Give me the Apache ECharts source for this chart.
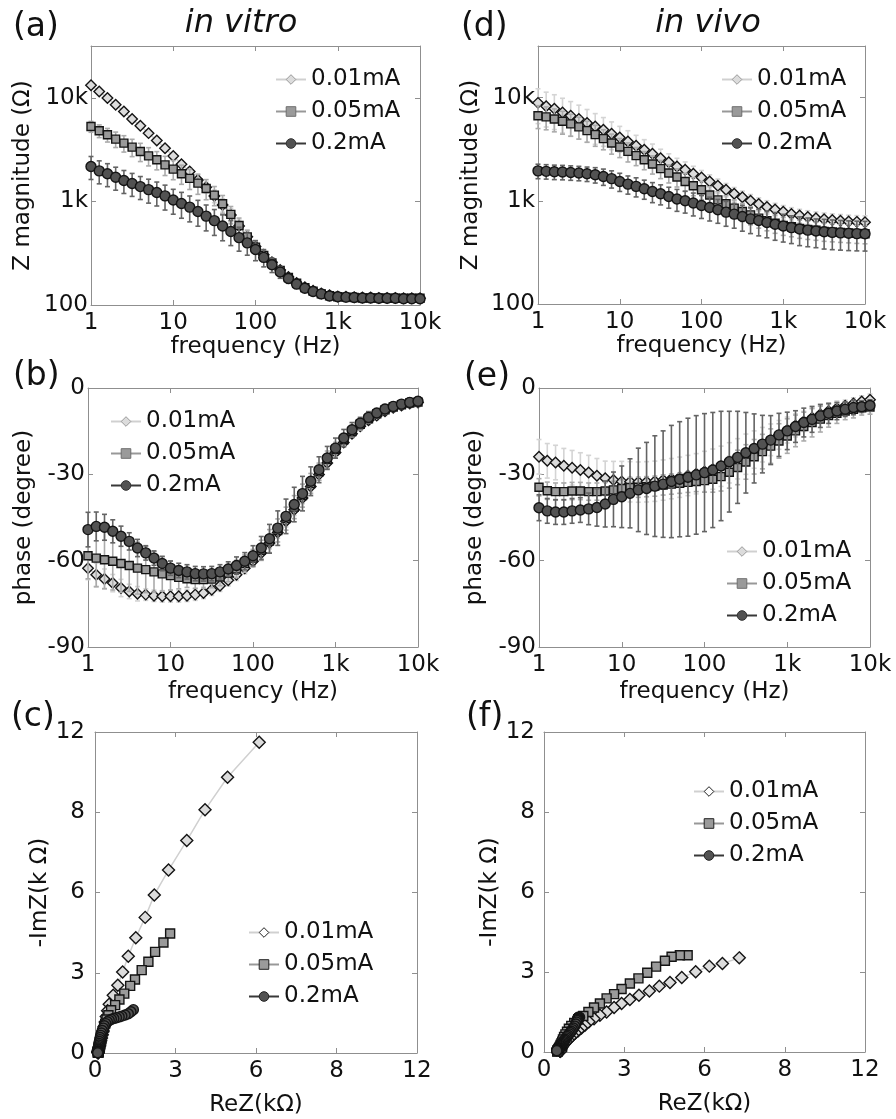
<!DOCTYPE html>
<html>
<head>
<meta charset="utf-8">
<title>Impedance in vitro / in vivo</title>
<script src="https://cdn.jsdelivr.net/npm/echarts@6/dist/echarts.min.js"></script>
<style>
html, body { margin: 0; padding: 0; background: #fff; }
#chart { width: 896px; height: 1119px; }
</style>
</head>
<body>
<div id="chart"></div>
<script>
// measurement frequencies (Hz), 10 per decade
var freq = [1, 1.259, 1.585, 1.995, 2.512, 3.162, 3.981, 5.012, 6.31, 7.943,
	10, 12.59, 15.85, 19.95, 25.12, 31.62, 39.81, 50.12, 63.1, 79.43,
	100, 125.9, 158.5, 199.5, 251.2, 316.2, 398.1, 501.2, 631, 794.3,
	1000, 1259, 1585, 1995, 2512, 3162, 3981, 5012, 6310, 7943, 10000];

var names = ["0.01mA", "0.05mA", "0.2mA"];

// tick labels
var freqTicks = [1, 10, 100, 1000, 10000];
var freqTickLabels = ["1", "10", "100", "1k", "10k"];
var magTicks = [100, 1000, 10000];
var magTickLabels = ["100", "1k", "10k"];
var nyqTicks = [0, 3, 6, 9, 12];
var nyqTickLabels = ["0", "3", "6", "8", "12"];

// (a) in vitro |Z| (ohm)
var magVitro01 = [13200, 11500, 9950, 8550, 7380, 6230, 5360, 4560, 3870, 3260, 2750, 2280, 1940, 1610, 1370, 1130, 925, 740, 580, 455, 368, 305, 258, 218, 186, 163, 148, 137, 129, 124, 121, 120, 119, 118, 118, 117, 117, 117, 116, 116, 116];
var magVitro05 = [5280, 4800, 4400, 3990, 3650, 3340, 3030, 2750, 2520, 2250, 2050, 1850, 1670, 1500, 1330, 1150, 950, 750, 585, 455, 362, 300, 254, 215, 184, 162, 147, 136, 128, 123, 120, 119, 118, 117, 117, 117, 116, 116, 116, 116, 116];
var magVitro2 = [2170, 1970, 1850, 1710, 1590, 1490, 1390, 1300, 1220, 1130, 1030, 955, 881, 800, 721, 652, 579, 513, 447, 398, 343, 288, 245, 208, 180, 159, 145, 135, 128, 122, 120, 119, 118, 117, 117, 116, 116, 116, 115, 115, 115];
// relative std dev
var errVitro01 = [0.04, 0.04, 0.04, 0.04, 0.04, 0.05, 0.05, 0.05, 0.06, 0.06, 0.07, 0.08, 0.09, 0.1, 0.12, 0.14, 0.15, 0.15, 0.14, 0.12, 0.1, 0.08, 0.06, 0.05, 0.04, 0.03, 0.03, 0.02, 0.02, 0.02, 0.02, 0.02, 0.02, 0.02, 0.02, 0.02, 0.02, 0.02, 0.02, 0.02, 0.02];
var errVitro05 = [0.12, 0.14, 0.15, 0.17, 0.18, 0.19, 0.2, 0.2, 0.2, 0.21, 0.21, 0.21, 0.22, 0.22, 0.22, 0.21, 0.2, 0.19, 0.18, 0.16, 0.14, 0.12, 0.1, 0.08, 0.06, 0.05, 0.04, 0.03, 0.03, 0.02, 0.02, 0.02, 0.02, 0.02, 0.02, 0.02, 0.02, 0.02, 0.02, 0.02, 0.02];
var errVitro2 = [0.25, 0.25, 0.25, 0.25, 0.25, 0.25, 0.25, 0.26, 0.26, 0.27, 0.27, 0.28, 0.28, 0.28, 0.28, 0.28, 0.28, 0.27, 0.26, 0.24, 0.22, 0.19, 0.16, 0.13, 0.1, 0.08, 0.06, 0.05, 0.04, 0.03, 0.03, 0.03, 0.02, 0.02, 0.02, 0.02, 0.02, 0.02, 0.02, 0.02, 0.02];

// (b) in vitro phase (degree)
var phVitro01 = [-62.6, -64.9, -66.4, -67.8, -69.5, -70.7, -71.5, -71.8, -72.2, -72.4, -72.4, -72.4, -72.2, -71.8, -71.2, -70.1, -68.7, -66.8, -64.9, -62.6, -60.2, -57.3, -53.9, -50.2, -46.3, -42.3, -38.2, -34.2, -30.1, -26.1, -22.4, -18.9, -15.9, -13.3, -11.2, -9.6, -8.1, -6.9, -6.1, -5.4, -5.0];
var phVitro05 = [-58.3, -59.1, -59.7, -60.2, -61.0, -61.7, -62.6, -63.1, -63.9, -64.6, -65.2, -65.8, -66.3, -66.6, -66.6, -66.4, -65.7, -64.3, -62.9, -61.0, -59.1, -56.4, -53.2, -49.5, -45.4, -41.4, -37.4, -33.2, -29.1, -24.9, -21.4, -18.0, -15.1, -12.6, -10.7, -9.0, -7.6, -6.6, -5.8, -5.2, -4.9];
var phVitro2 = [-49.2, -48.1, -48.4, -49.8, -51.5, -53.3, -55.6, -57.3, -59.1, -61.0, -62.6, -63.4, -63.9, -64.5, -64.6, -64.5, -63.9, -62.9, -61.7, -60.2, -58.3, -55.6, -52.4, -48.7, -44.6, -40.5, -36.7, -32.4, -28.4, -24.3, -20.9, -17.4, -14.5, -12.2, -10.2, -8.7, -7.3, -6.4, -5.6, -5.0, -4.6];
var errPhVitro01 = [4, 4, 3.5, 3, 3, 2.5, 2.5, 2, 2, 2, 2, 2, 2, 2, 2, 2, 2, 2, 2, 2, 2, 2, 2, 2, 2, 2, 2, 2, 2, 2, 1.5, 1.5, 1.5, 1.5, 1.5, 1.5, 1.5, 1.5, 1.5, 1.5, 1.5];
var errPhVitro05 = [8, 10, 10, 10, 10, 9, 9, 8, 7, 6, 5, 4, 3, 3, 3, 3, 3, 3, 3, 3, 3, 3.5, 4, 4, 4, 4, 4, 3.5, 3, 3, 2.5, 2, 2, 2, 1.5, 1.5, 1.5, 1.5, 1.5, 1.5, 1.5];
var errPhVitro2 = [6, 5, 4.5, 4, 3.5, 3, 3, 2.5, 2.5, 2.5, 2.5, 2.5, 2.5, 2.5, 2.5, 2.5, 2.5, 2.5, 3, 3, 3.5, 4, 5, 6, 6, 6, 6, 5, 4.5, 4, 3.5, 3, 2.5, 2, 2, 1.5, 1.5, 1.5, 1.5, 1.5, 1.5];

// (c) in vitro Nyquist [ReZ, -ImZ] (kOhm)
var nyqVitro01 = [[6.12, 11.62], [4.94, 10.31], [4.10, 9.09], [3.42, 7.94], [2.74, 6.84], [2.21, 5.91], [1.87, 5.07], [1.52, 4.31], [1.24, 3.62], [1.03, 3.03], [0.85, 2.53], [0.68, 2.16], [0.53, 1.82], [0.47, 1.58], [0.42, 1.36], [0.38, 1.16], [0.34, 0.98], [0.30, 0.82], [0.27, 0.68], [0.24, 0.56], [0.215, 0.46], [0.195, 0.37], [0.18, 0.30], [0.165, 0.24], [0.15, 0.19], [0.14, 0.15], [0.13, 0.12], [0.125, 0.095], [0.12, 0.075], [0.118, 0.06], [0.116, 0.048], [0.115, 0.038], [0.115, 0.03], [0.115, 0.024], [0.115, 0.019], [0.115, 0.015], [0.115, 0.012], [0.115, 0.01]];
var nyqVitro05 = [[2.80, 4.47], [2.55, 4.13], [2.24, 3.78], [1.99, 3.41], [1.74, 3.10], [1.49, 2.75], [1.31, 2.51], [1.09, 2.22], [0.91, 2.00], [0.75, 1.79], [0.60, 1.60], [0.50, 1.41], [0.43, 1.25], [0.38, 1.10], [0.34, 0.95], [0.30, 0.82], [0.27, 0.70], [0.245, 0.58], [0.22, 0.48], [0.20, 0.40], [0.185, 0.33], [0.17, 0.26], [0.16, 0.20], [0.15, 0.16], [0.14, 0.125], [0.13, 0.10], [0.125, 0.08], [0.12, 0.066], [0.118, 0.055], [0.116, 0.045], [0.115, 0.037], [0.115, 0.031], [0.115, 0.026], [0.115, 0.022], [0.115, 0.018], [0.115, 0.015], [0.115, 0.013], [0.115, 0.011]];
var nyqVitro2 = [[1.43, 1.62], [1.34, 1.54], [1.24, 1.47], [1.12, 1.42], [1.00, 1.38], [0.90, 1.35], [0.80, 1.32], [0.70, 1.29], [0.61, 1.26], [0.53, 1.22], [0.46, 1.17], [0.40, 1.10], [0.35, 1.02], [0.31, 0.93], [0.27, 0.84], [0.24, 0.75], [0.215, 0.66], [0.195, 0.58], [0.18, 0.50], [0.165, 0.43], [0.15, 0.36], [0.14, 0.30], [0.13, 0.24], [0.12, 0.19], [0.115, 0.15], [0.11, 0.12], [0.105, 0.09], [0.10, 0.07], [0.10, 0.05], [0.10, 0.04], [0.10, 0.03], [0.10, 0.02], [0.10, 0.015], [0.10, 0.01]];

// (d) in vivo |Z| (ohm)
var magVivo01 = [8890, 8240, 7780, 7190, 6680, 6210, 5680, 5260, 4890, 4470, 4110, 3760, 3420, 3130, 2860, 2590, 2360, 2150, 2000, 1830, 1680, 1540, 1400, 1280, 1170, 1080, 1000, 929, 871, 822, 782, 746, 719, 697, 678, 662, 650, 640, 631, 625, 621];
var magVivo05 = [6680, 6500, 6210, 5890, 5560, 5200, 4790, 4380, 4000, 3630, 3320, 3010, 2740, 2500, 2270, 2050, 1860, 1700, 1540, 1400, 1280, 1140, 1020, 935, 849, 787, 731, 679, 640, 605, 578, 560, 541, 528, 518, 506, 500, 494, 489, 483, 479];
var magVivo2 = [1950, 1930, 1910, 1900, 1880, 1860, 1830, 1790, 1720, 1640, 1540, 1450, 1380, 1310, 1230, 1170, 1100, 1040, 1000, 951, 899, 861, 818, 776, 743, 705, 668, 644, 617, 592, 569, 550, 533, 520, 509, 501, 494, 489, 484, 481, 479];
var errVivo01 = [0.37, 0.37, 0.37, 0.37, 0.37, 0.36, 0.35, 0.33, 0.31, 0.3, 0.28, 0.27, 0.26, 0.25, 0.24, 0.22, 0.21, 0.2, 0.19, 0.18, 0.17, 0.16, 0.16, 0.15, 0.15, 0.15, 0.15, 0.15, 0.15, 0.15, 0.15, 0.15, 0.15, 0.15, 0.15, 0.15, 0.15, 0.15, 0.15, 0.15, 0.15];
var errVivo05 = [0.25, 0.25, 0.25, 0.25, 0.24, 0.24, 0.23, 0.23, 0.22, 0.22, 0.21, 0.21, 0.2, 0.2, 0.2, 0.2, 0.2, 0.2, 0.2, 0.2, 0.2, 0.2, 0.2, 0.2, 0.2, 0.2, 0.2, 0.2, 0.2, 0.2, 0.2, 0.2, 0.2, 0.2, 0.2, 0.2, 0.2, 0.2, 0.2, 0.2, 0.2];
var errVivo2 = [0.16, 0.16, 0.16, 0.16, 0.16, 0.16, 0.16, 0.17, 0.18, 0.19, 0.2, 0.2, 0.21, 0.21, 0.22, 0.22, 0.23, 0.24, 0.24, 0.25, 0.25, 0.26, 0.26, 0.27, 0.27, 0.28, 0.28, 0.29, 0.29, 0.3, 0.3, 0.3, 0.31, 0.31, 0.31, 0.32, 0.32, 0.32, 0.32, 0.32, 0.32];

// (e) in vivo phase (degree)
var phVivo01 = [-23.9, -25.3, -25.9, -27.0, -27.7, -28.5, -29.4, -30.5, -31.4, -32.0, -32.5, -32.6, -32.7, -32.6, -32.4, -32.0, -31.5, -31.0, -30.4, -29.8, -29.0, -28.2, -27.2, -26.0, -24.6, -23.0, -21.4, -19.7, -18.0, -16.3, -14.6, -13.0, -11.6, -10.3, -9.1, -8.0, -7.0, -6.2, -5.4, -4.7, -4.1];
var phVivo05 = [-34.5, -35.7, -36.0, -36.0, -35.8, -35.8, -36.0, -36.0, -35.8, -35.4, -34.9, -34.6, -34.5, -34.3, -34.1, -33.7, -33.4, -33.1, -32.8, -32.5, -32.2, -31.7, -30.8, -29.3, -27.6, -25.7, -23.9, -22.1, -20.2, -18.4, -16.7, -14.9, -13.4, -12.0, -10.8, -9.6, -8.8, -8.0, -7.4, -6.9, -6.6];
var phVivo2 = [-41.6, -42.7, -43.1, -43.1, -42.7, -42.4, -42.0, -41.5, -40.3, -38.7, -37.8, -36.6, -35.4, -34.9, -34.1, -33.4, -32.5, -31.7, -31.0, -30.2, -29.4, -28.5, -27.1, -25.6, -24.1, -22.5, -21.0, -19.5, -18.1, -16.3, -14.9, -13.4, -12.0, -10.9, -9.7, -8.8, -8.0, -7.4, -6.8, -6.5, -6.1];
var errPhVivo01 = [6, 6, 6, 6, 6, 6, 6, 6, 6, 6.5, 7, 7, 7, 7, 7, 7, 7, 7, 7, 7, 7, 7, 7, 7, 7, 7, 6.5, 6, 5.5, 5, 4.5, 4, 3.5, 3, 3, 2.5, 2.5, 2, 2, 2, 2];
var errPhVivo05 = [3, 3, 3, 3, 3, 3, 3, 3, 3, 3, 3, 3.5, 3.5, 3.5, 3.5, 3.5, 3.5, 3.5, 3.5, 3.5, 4, 4.5, 5, 5.5, 6, 6, 6, 6, 6, 6, 6, 5.5, 5, 5, 4.5, 4, 3.5, 3, 3, 2.5, 2.5];
var errPhVivo2 = [4.5, 4.3, 4.3, 4.3, 4.3, 4.3, 5.5, 6.5, 8, 9.5, 10.7, 12, 14.5, 16, 17.5, 18.5, 19.5, 20, 20.5, 20.6, 20.5, 20, 19, 17.5, 16, 14, 12, 10, 8.5, 7.5, 6.5, 5.5, 5, 4.5, 4, 3.5, 3, 2.5, 2.5, 2, 2];

// (f) in vivo Nyquist [ReZ, -ImZ] (kOhm)
var nyqVivo01 = [[7.30, 3.53], [6.67, 3.32], [6.18, 3.22], [5.67, 3.01], [5.15, 2.79], [4.71, 2.61], [4.31, 2.47], [3.94, 2.29], [3.55, 2.13], [3.21, 1.97], [2.90, 1.82], [2.62, 1.67], [2.34, 1.50], [2.09, 1.38], [1.87, 1.25], [1.68, 1.13], [1.53, 1.00], [1.40, 0.90], [1.28, 0.80], [1.17, 0.71], [1.07, 0.62], [0.98, 0.53], [0.90, 0.45], [0.83, 0.38], [0.77, 0.31], [0.72, 0.26], [0.69, 0.21], [0.66, 0.17], [0.64, 0.14], [0.63, 0.115], [0.62, 0.095], [0.615, 0.08], [0.61, 0.068], [0.61, 0.058], [0.61, 0.05], [0.61, 0.045], [0.61, 0.04], [0.61, 0.036], [0.61, 0.033], [0.61, 0.03], [0.61, 0.028]];
var nyqVivo05 = [[5.37, 3.63], [5.08, 3.63], [4.77, 3.57], [4.52, 3.42], [4.19, 3.20], [3.86, 2.97], [3.53, 2.76], [3.21, 2.57], [2.90, 2.36], [2.62, 2.17], [2.34, 2.01], [2.09, 1.82], [1.87, 1.67], [1.66, 1.50], [1.47, 1.35], [1.28, 1.22], [1.13, 1.09], [1.02, 0.98], [0.93, 0.87], [0.86, 0.76], [0.80, 0.66], [0.75, 0.56], [0.71, 0.47], [0.68, 0.39], [0.65, 0.32], [0.62, 0.26], [0.60, 0.21], [0.58, 0.17], [0.565, 0.14], [0.55, 0.115], [0.54, 0.095], [0.53, 0.08], [0.525, 0.068], [0.52, 0.058], [0.515, 0.05], [0.51, 0.044], [0.505, 0.039], [0.50, 0.035], [0.50, 0.031], [0.50, 0.028], [0.50, 0.025]];
var nyqVivo2 = [[1.33, 1.30], [1.30, 1.31], [1.29, 1.30], [1.28, 1.29], [1.27, 1.27], [1.26, 1.25], [1.25, 1.22], [1.24, 1.18], [1.22, 1.12], [1.19, 1.05], [1.15, 0.97], [1.10, 0.90], [1.06, 0.84], [1.02, 0.78], [0.98, 0.73], [0.94, 0.68], [0.90, 0.63], [0.86, 0.58], [0.83, 0.53], [0.80, 0.48], [0.77, 0.44], [0.74, 0.40], [0.71, 0.36], [0.68, 0.32], [0.65, 0.28], [0.62, 0.25], [0.60, 0.22], [0.58, 0.19], [0.56, 0.165], [0.54, 0.145], [0.52, 0.13], [0.51, 0.11], [0.50, 0.10], [0.495, 0.09], [0.49, 0.08], [0.485, 0.07], [0.48, 0.065], [0.478, 0.06], [0.477, 0.055], [0.476, 0.053], [0.476, 0.051]];

var FONT = "DejaVu Sans";
var INK = "#111";
var FRAME = "#8f8f8f";

// marker / line look per current level
var symbols = ["diamond", "rect", "circle"];
var fills = ["#dcdcdc", "#9a9a9a", "#525252"];
var lineColors = ["#d0d0d0", "#989898", "#383838"];
var barColors = ["#d4d4d4", "#ababab", "#646464"];
var legendEdge = ["#9a9a9a", "#6e6e6e", "#333333"];
var bodeSizes = [10.5, 8, 10];
var nyqSizes = [12, 9, 10];

// panel boxes (a) (b) (c) (d) (e) (f)
var grids = [
	{ left: 91, top: 46, width: 329, height: 259 },
	{ left: 88, top: 388, width: 330, height: 259 },
	{ left: 95, top: 732, width: 322, height: 321 },
	{ left: 538, top: 46, width: 327, height: 258 },
	{ left: 539, top: 388, width: 331, height: 259 },
	{ left: 544, top: 732, width: 321, height: 320 }
];

function scaleOf(kind) {
	if (kind === "freq") return { type: "log", logBase: 10, min: 1, max: 10000 };
	if (kind === "mag") return { type: "log", logBase: 10, min: 100, max: 31623 };
	if (kind === "phase") return { type: "value", min: -90, max: 0, interval: 30 };
	return { type: "value", min: 0, max: 12, interval: 3 };
}

function tickText(kind, v) {
	var ticks = null, labels = null;
	if (kind === "freq") { ticks = freqTicks; labels = freqTickLabels; }
	if (kind === "mag") { ticks = magTicks; labels = magTickLabels; }
	if (kind === "nyq") { ticks = nyqTicks; labels = nyqTickLabels; }
	if (!ticks) return String(v);
	for (var i = 0; i < ticks.length; i++) {
		if (Math.abs(v - ticks[i]) <= ticks[i] * 1e-4 + 1e-6) return labels[i];
	}
	return "";
}

function frameAxis(gi, pos, kind, withLabels, labelMargin) {
	var ax = scaleOf(kind);
	ax.gridIndex = gi;
	ax.position = pos;
	ax.axisLine = { show: true, onZero: false, lineStyle: { color: FRAME, width: 1 } };
	ax.axisTick = { show: true, inside: true, length: 5, lineStyle: { color: FRAME, width: 1 } };
	ax.axisLabel = {
		show: withLabels, color: INK, fontSize: 23, fontFamily: FONT, margin: labelMargin,
		formatter: function (v) { return tickText(kind, v); }
	};
	ax.splitLine = { show: false };
	ax.minorTick = { show: false };
	return ax;
}

var xAxes = [], yAxes = [];
function addAxes(gi, xKind, yKind, xName, xGap, yName, yGap, yMargin) {
	var xb = frameAxis(gi, "bottom", xKind, true, 7);
	xb.name = xName;
	xb.nameLocation = "middle";
	xb.nameGap = xGap;
	xb.nameTextStyle = { color: INK, fontSize: 23, fontFamily: FONT };
	var yl = frameAxis(gi, "left", yKind, true, yMargin);
	yl.name = yName;
	yl.nameLocation = "middle";
	yl.nameGap = yGap;
	yl.nameTextStyle = { color: INK, fontSize: 23, fontFamily: FONT };
	xAxes.push(xb, frameAxis(gi, "top", xKind, false, 7));
	yAxes.push(yl, frameAxis(gi, "right", yKind, false, 7));
}

addAxes(0, "freq", "mag", "frequency (Hz)", 30, "Z magnitude (\u03A9)", 56, 3);
addAxes(1, "freq", "phase", "frequency (Hz)", 34, "phase (degree)", 52, 3);
addAxes(2, "nyq", "nyq", "ReZ(k\u03A9)", 41, "-ImZ(k \u03A9)", 38, 10);
addAxes(3, "freq", "mag", "frequency (Hz)", 30, "Z magnitude (\u03A9)", 55, 3);
addAxes(4, "freq", "phase", "frequency (Hz)", 34, "phase (degree)", 52, 3);
addAxes(5, "nyq", "nyq", "ReZ(k\u03A9)", 41, "-ImZ(k \u03A9)", 37, 9);

var series = [];

// vertical error bars with caps
function errBars(gi, k, vals, errs, relative) {
	var data = vals.map(function (v, i) {
		var e = relative ? v * errs[i] : errs[i];
		return [freq[i], v - e, v + e];
	});
	var color = barColors[k];
	series.push({
		type: "custom",
		name: names[k] + " sd",
		xAxisIndex: gi * 2,
		yAxisIndex: gi * 2,
		z: 2 + k * 2,
		silent: true,
		encode: { x: 0, y: [1, 2] },
		renderItem: function (params, api) {
			var lo = api.coord([api.value(0), api.value(1)]);
			var hi = api.coord([api.value(0), api.value(2)]);
			var w = 2.5;
			var st = { stroke: color, lineWidth: 1.6 };
			return {
				type: "group",
				children: [
					{ type: "line", shape: { x1: lo[0], y1: lo[1], x2: hi[0], y2: hi[1] }, style: st },
					{ type: "line", shape: { x1: lo[0] - w, y1: lo[1], x2: lo[0] + w, y2: lo[1] }, style: st },
					{ type: "line", shape: { x1: hi[0] - w, y1: hi[1], x2: hi[0] + w, y2: hi[1] }, style: st }
				]
			};
		},
		data: data
	});
}

function curve(gi, k, pts, size) {
	series.push({
		type: "line",
		name: names[k],
		xAxisIndex: gi * 2,
		yAxisIndex: gi * 2,
		data: pts,
		symbol: symbols[k],
		symbolSize: size,
		showSymbol: true,
		z: 3 + k * 2,
		silent: true,
		lineStyle: { color: lineColors[k], width: 1.5 },
		itemStyle: { color: fills[k], borderColor: "#141414", borderWidth: 1.4 }
	});
}

function bode(gi, k, vals, errs, relative) {
	errBars(gi, k, vals, errs, relative);
	curve(gi, k, vals.map(function (v, i) { return [freq[i], v]; }), bodeSizes[k]);
}

bode(0, 0, magVitro01, errVitro01, true);
bode(0, 1, magVitro05, errVitro05, true);
bode(0, 2, magVitro2, errVitro2, true);
bode(1, 0, phVitro01, errPhVitro01, false);
bode(1, 1, phVitro05, errPhVitro05, false);
bode(1, 2, phVitro2, errPhVitro2, false);
curve(2, 0, nyqVitro01, nyqSizes[0]);
curve(2, 1, nyqVitro05, nyqSizes[1]);
curve(2, 2, nyqVitro2, nyqSizes[2]);
bode(3, 0, magVivo01, errVivo01, true);
bode(3, 1, magVivo05, errVivo05, true);
bode(3, 2, magVivo2, errVivo2, true);
bode(4, 0, phVivo01, errPhVivo01, false);
bode(4, 1, phVivo05, errPhVivo05, false);
bode(4, 2, phVivo2, errPhVivo2, false);
curve(5, 0, nyqVivo01, nyqSizes[0]);
curve(5, 1, nyqVivo05, nyqSizes[1]);
curve(5, 2, nyqVivo2, nyqSizes[2]);

function legendAt(left, top, nyquist) {
	return {
		left: left,
		top: top,
		orient: "vertical",
		itemWidth: 30,
		itemHeight: 12,
		itemGap: 9,
		padding: 0,
		selectedMode: false,
		textStyle: { color: INK, fontSize: 23, fontFamily: FONT },
		data: names.map(function (n, k) {
			return {
				name: n,
				itemStyle: {
					color: nyquist && k === 0 ? "#ffffff" : fills[k],
					borderColor: nyquist ? "#222222" : legendEdge[k],
					borderWidth: 1
				}
			};
		})
	};
}

var legends = [
	legendAt(275, 68, false),
	legendAt(110, 410, false),
	legendAt(248, 921, true),
	legendAt(721, 68, false),
	legendAt(726, 540, false),
	legendAt(693, 780, true)
];

function label(text, x, y, size, italic, align) {
	return {
		type: "text",
		x: x,
		y: y,
		silent: true,
		style: {
			text: text,
			fill: INK,
			fontSize: size,
			fontFamily: FONT,
			fontStyle: italic ? "italic" : "normal",
			align: align,
			verticalAlign: "middle"
		}
	};
}

var graphics = [
	label("(a)", 13, 27, 33, false, "left"),
	label("(b)", 13, 376, 33, false, "left"),
	label("(c)", 11, 717, 33, false, "left"),
	label("(d)", 461, 27, 33, false, "left"),
	label("(e)", 464, 377, 33, false, "left"),
	label("(f)", 466, 717, 33, false, "left"),
	label("in vitro", 241, 24, 32, true, "center"),
	label("in vivo", 708, 24, 32, true, "center")
];

var myChart = echarts.init(document.getElementById("chart"), null, { renderer: "canvas" });
myChart.setOption({
	animation: false,
	backgroundColor: "#ffffff",
	textStyle: { fontFamily: FONT },
	grid: grids,
	xAxis: xAxes,
	yAxis: yAxes,
	legend: legends,
	graphic: graphics,
	series: series
});
</script>
</body>
</html>
